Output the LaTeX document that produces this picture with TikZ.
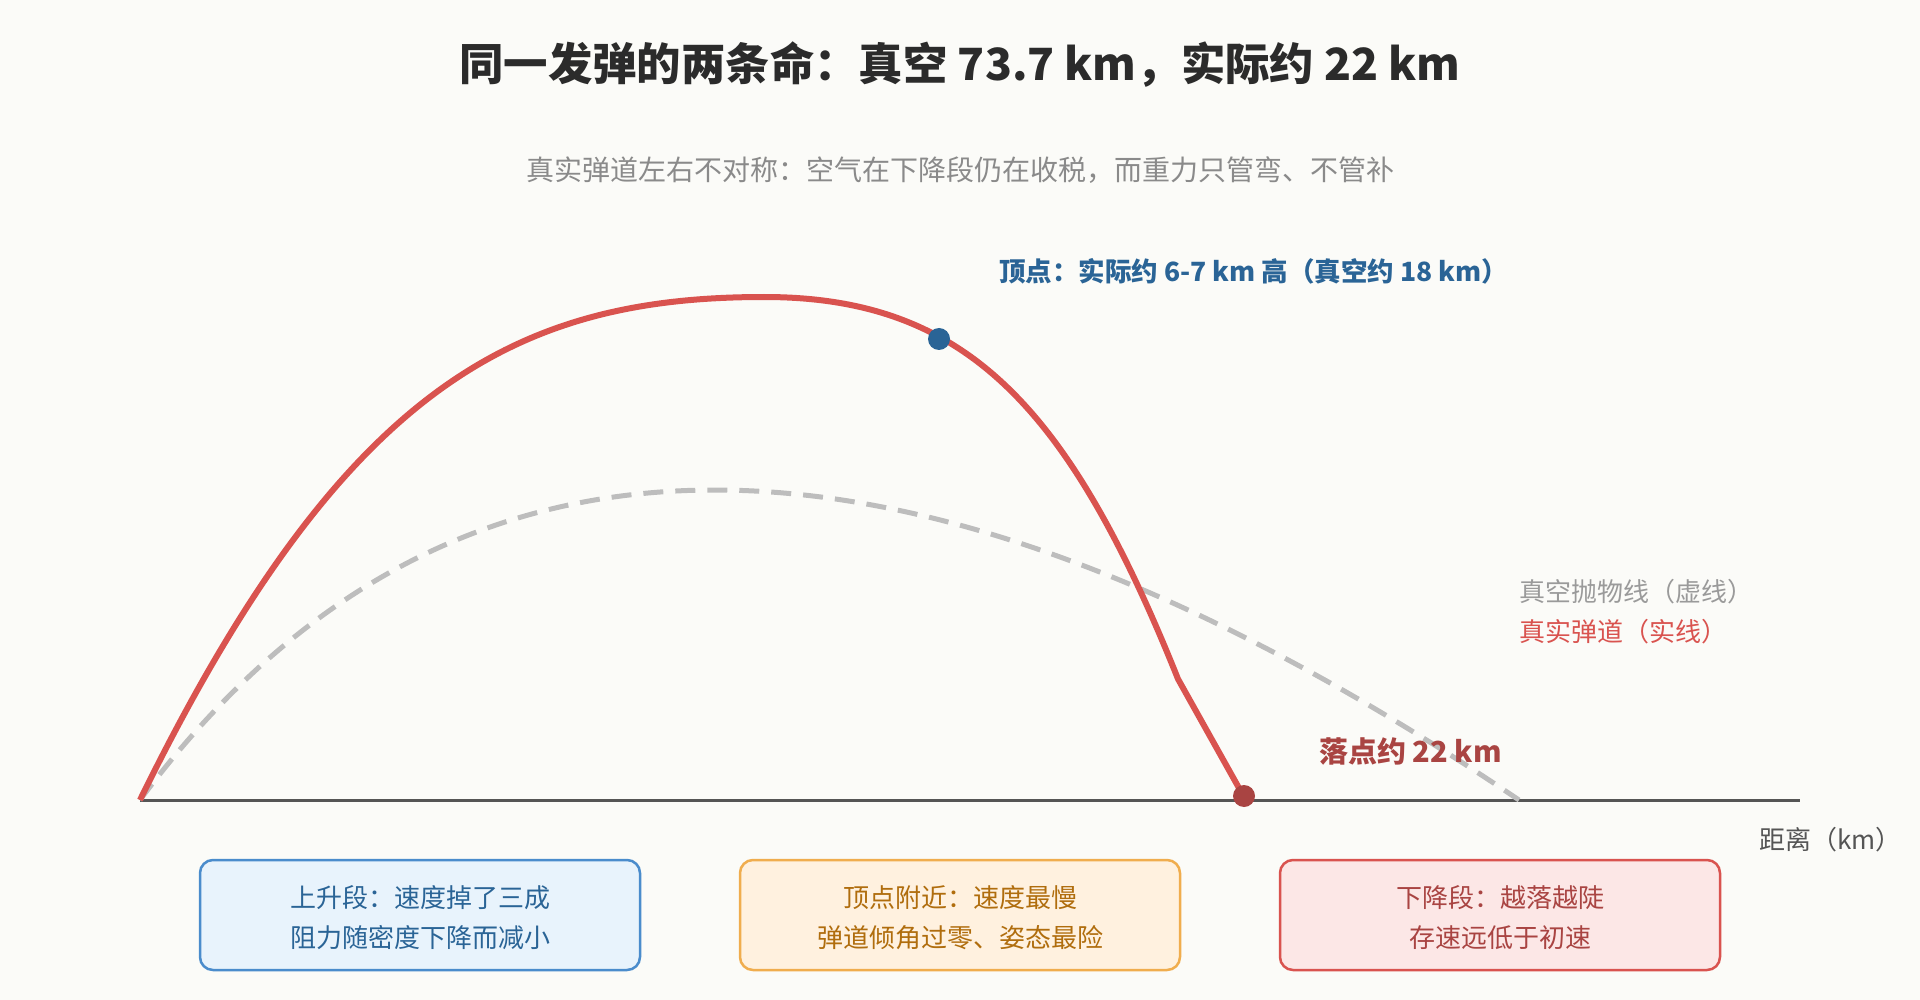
\documentclass[tikz,border=0pt]{standalone}
\usepackage{fontspec}
\setmainfont{Noto Sans CJK SC}
\usetikzlibrary{calc}
\definecolor{bg}{HTML}{FBFBF8}
\definecolor{titlec}{HTML}{2B2B2B}
\definecolor{subc}{HTML}{8A8A8A}
\definecolor{realc}{HTML}{D9534F}
\definecolor{vacc}{HTML}{BDBDBD}
\definecolor{apexc}{HTML}{2A6496}
\definecolor{landc}{HTML}{A94442}
\definecolor{groundc}{HTML}{555555}
\definecolor{legvac}{HTML}{9A9A9A}
\definecolor{bluefill}{HTML}{E8F3FC}
\definecolor{blueline}{HTML}{4A8CCC}
\definecolor{orfill}{HTML}{FFF1DF}
\definecolor{orline}{HTML}{F0AD4E}
\definecolor{ortext}{HTML}{B06D0D}
\definecolor{redfill}{HTML}{FCE7E6}
\begin{document}
\begin{tikzpicture}[x=1pt,y=-1pt,
  txt/.style={inner sep=0pt,outer sep=0pt},
  infobox/.style={draw, line width=2.5pt, rounded corners=13pt, minimum width=440pt, minimum height=110pt, inner sep=0pt},
  boxtext/.style={txt, font=\fontsize{26}{32}\selectfont, align=center},
  legend/.style={txt, anchor=west, font=\fontsize{26}{32}\selectfont}]
\fill[bg] (0,0) rectangle (1920,1000);
\useasboundingbox (0,0) rectangle (1920,1000);

\node[txt, text=titlec, font=\fontsize{44.4}{54}\selectfont\bfseries] (title) at (960,65) {同一发弹的两条命：真空 73.7 km，实际约 22 km};
\node[txt, text=subc, font=\fontsize{28}{34}\selectfont] (subtitle) at (960,170) {真实弹道左右不对称：空气在下降段仍在收税，而重力只管弯、不管补};

% ground
\coordinate (g0) at (140,800);
\coordinate (g1) at (1800,800);
\draw[groundc, line width=3pt] (g0) -- (g1);

% vacuum parabola
\coordinate (vend) at (1519,800);
\draw[vacc, line width=5pt, dash pattern=on 20pt off 12pt] (g0) .. controls (446.67,386.67) and (906.33,386.67) .. (vend);

% real trajectory
\coordinate (apex) at (764,297);
\coordinate (bend) at (1178,679);
\coordinate (land) at (1244,797);
\draw[realc, line width=6pt, line join=round] (g0) .. controls (342,388) and (514,297) .. (apex)
  .. controls (964,297) and (1068,404) .. (bend) -- (land);

\node[circle, fill=apexc, minimum size=22pt, inner sep=0pt] (apexdot) at (939,339) {};
\node[circle, fill=landc, minimum size=22pt, inner sep=0pt] (landdot) at (1244,796) {};

\node[txt, anchor=west, text=apexc, font=\fontsize{26.5}{32}\selectfont\bfseries] (apexlbl) at (999,271) {顶点：实际约 6-7 km 高（真空约 18 km）};
\node[txt, anchor=west, text=landc, font=\fontsize{29}{34}\selectfont\bfseries] (landlbl) at (1319,751) {落点约 22 km};

\node[legend, text=legvac] (leg1) at (1519,592) {真空抛物线（虚线）};
\node[legend, text=realc] (leg2) at (1519,632) {真实弹道（实线）};
\node[legend, text=groundc] (axis) at (1759,840) {距离（km）};

% info boxes
\node[infobox, draw=blueline, fill=bluefill] (box1) at (420,915) {};
\node[boxtext, text=apexc] (box1a) at (420,898) {上升段：速度掉了三成};
\node[boxtext, text=apexc] (box1b) at (420,938) {阻力随密度下降而减小};

\node[infobox, draw=orline, fill=orfill] (box2) at (960,915) {};
\node[boxtext, text=ortext] (box2a) at (960,898) {顶点附近：速度最慢};
\node[boxtext, text=ortext] (box2b) at (960,938) {弹道倾角过零、姿态最险};

\node[infobox, draw=realc, fill=redfill] (box3) at (1500,915) {};
\node[boxtext, text=landc] (box3a) at (1500,898) {下降段：越落越陡};
\node[boxtext, text=landc] (box3b) at (1500,938) {存速远低于初速};
\end{tikzpicture}
\end{document}
